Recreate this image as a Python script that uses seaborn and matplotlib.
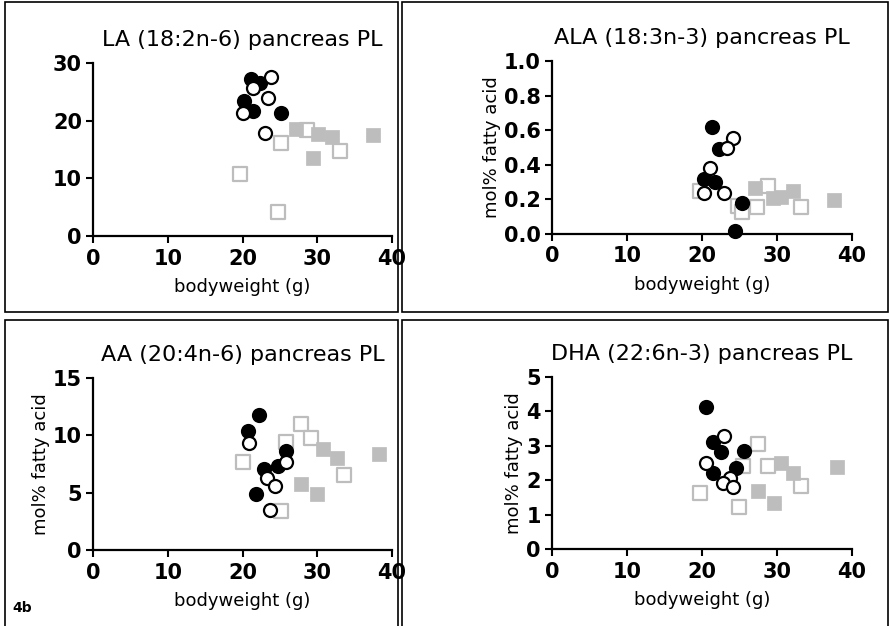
import matplotlib
matplotlib.use("Agg")
import matplotlib.pyplot as plt
from matplotlib.patches import Rectangle
import seaborn as sns
import pandas as pd

# data (bodyweight g, mol% fatty acid)
# cf = filled circle, co = open circle, sf = filled square, so = open square
la_cf_x = [21.2, 22.3, 20.2, 21.4, 25.2]
la_cf_y = [27.3, 26.5, 23.4, 21.7, 21.3]
la_co_x = [23.8, 21.4, 23.4, 20.1, 23.0]
la_co_y = [27.6, 25.6, 23.9, 21.4, 17.8]
la_sf_x = [27.2, 30.1, 32.0, 37.5, 29.4]
la_sf_y = [18.5, 17.7, 17.2, 17.5, 13.5]
la_so_x = [28.6, 25.1, 33.1, 19.7, 24.8]
la_so_y = [18.4, 16.2, 14.8, 10.7, 4.2]

ala_cf_x = [21.3, 22.3, 20.3, 21.7, 25.4, 24.4]
ala_cf_y = [0.62, 0.49, 0.32, 0.30, 0.18, 0.02]
ala_co_x = [24.1, 23.4, 21.1, 20.3, 23.0]
ala_co_y = [0.557, 0.495, 0.38, 0.235, 0.235]
ala_sf_x = [27.1, 29.5, 30.6, 32.2, 37.7]
ala_sf_y = [0.264, 0.206, 0.216, 0.25, 0.196]
ala_so_x = [19.7, 28.8, 24.8, 25.3, 27.4, 33.2]
ala_so_y = [0.25, 0.277, 0.16, 0.13, 0.158, 0.154]

aa_cf_x = [22.2, 20.7, 25.8, 24.8, 22.9, 21.8]
aa_cf_y = [11.8, 10.4, 8.66, 7.3, 7.1, 4.88]
aa_co_x = [20.9, 25.8, 23.3, 24.3, 23.7]
aa_co_y = [9.35, 7.7, 6.25, 5.58, 3.49]
aa_sf_x = [30.8, 32.6, 38.3, 27.8, 30.0]
aa_sf_y = [8.78, 8.0, 8.37, 5.72, 4.88]
aa_so_x = [27.8, 29.1, 25.8, 20.0, 33.6, 25.1]
aa_so_y = [10.96, 9.74, 9.45, 7.7, 6.54, 3.43]

dha_cf_x = [20.5, 21.5, 22.5, 25.6, 24.5, 21.5]
dha_cf_y = [4.14, 3.12, 2.83, 2.86, 2.35, 2.22]
dha_co_x = [22.9, 20.5, 23.7, 22.8, 24.1]
dha_co_y = [3.27, 2.51, 2.05, 1.93, 1.81]
dha_sf_x = [30.6, 32.2, 38.0, 27.5, 29.7]
dha_sf_y = [2.51, 2.2, 2.37, 1.69, 1.33]
dha_so_x = [27.5, 25.5, 28.8, 33.3, 19.8, 25.0]
dha_so_y = [3.05, 2.41, 2.41, 1.83, 1.64, 1.23]

titles = ["LA (18:2n-6) pancreas PL", "ALA (18:3n-3) pancreas PL",
          "AA (20:4n-6) pancreas PL", "DHA (22:6n-3) pancreas PL"]
ymax = [30, 1.0, 15, 5]
ystep = [10, 0.2, 5, 1]
yfmt = ["{:.0f}", "{:.1f}", "{:.0f}", "{:.0f}"]
xticks = [0, 10, 20, 30, 40]

sns.set_style("ticks")
plt.rcParams["font.family"] = ["DejaVu Sans"]
plt.rcParams.update({"text.color": "black", "axes.labelcolor": "black",
                     "xtick.color": "black", "ytick.color": "black",
                     "axes.edgecolor": "black"})

fig = plt.figure(figsize=(8.9, 6.26), dpi=100)

# boxes around each panel
for (x0, y0, w, h) in [(5, 2, 393, 310), (402, 2, 486, 310),
                       (5, 320, 393, 310), (402, 320, 486, 310)]:
    fig.patches.append(Rectangle((x0 / 890, 1 - (y0 + h) / 626), w / 890, h / 626,
                                 transform=fig.transFigure, fill=False,
                                 edgecolor="black", linewidth=1.2))

positions = [[0.1045, 0.623, 0.336, 0.2764],
             [0.620, 0.6262, 0.337, 0.2764],
             [0.1045, 0.1214, 0.336, 0.2748],
             [0.620, 0.123, 0.337, 0.2748]]

panels = [
    (la_cf_x, la_cf_y, la_co_x, la_co_y, la_sf_x, la_sf_y, la_so_x, la_so_y),
    (ala_cf_x, ala_cf_y, ala_co_x, ala_co_y, ala_sf_x, ala_sf_y, ala_so_x, ala_so_y),
    (aa_cf_x, aa_cf_y, aa_co_x, aa_co_y, aa_sf_x, aa_sf_y, aa_so_x, aa_so_y),
    (dha_cf_x, dha_cf_y, dha_co_x, dha_co_y, dha_sf_x, dha_sf_y, dha_so_x, dha_so_y),
]

gray = "#bdbdbd"
for i, p in enumerate(panels):
    cfx, cfy, cox, coy, sfx, sfy, sox, soy = p
    ax = fig.add_axes(positions[i])
    # draw order: open squares, filled squares, filled circles, open circles
    groups = [
        (sox, soy, "s", "white", gray, 1.6, 100),
        (sfx, sfy, "s", gray, gray, 0.5, 100),
        (cfx, cfy, "o", "black", "black", 1.2, 95),
        (cox, coy, "o", "white", "black", 1.6, 88),
    ]
    for gx, gy, mk, fc, ec, lw, sz in groups:
        df = pd.DataFrame({"bw": gx, "val": gy})
        sns.scatterplot(data=df, x="bw", y="val", marker=mk, s=sz,
                        color=fc, edgecolor=ec, linewidth=lw, ax=ax,
                        clip_on=False, zorder=3, legend=False)
    ax.set_xlim(0, 40)
    ax.set_ylim(0, ymax[i])
    ax.set_xticks(xticks)
    yt = [round(k * ystep[i], 2) for k in range(int(round(ymax[i] / ystep[i])) + 1)]
    ax.set_yticks(yt)
    ax.set_yticklabels([yfmt[i].format(v) for v in yt])
    ax.tick_params(labelsize=15, width=1.5, length=5, direction="out")
    ax.tick_params(axis="x", pad=4)
    ax.tick_params(axis="y", pad=3)
    for lab in ax.get_xticklabels() + ax.get_yticklabels():
        lab.set_fontweight("bold")
    sns.despine(ax=ax)
    for sp in ["left", "bottom"]:
        ax.spines[sp].set_linewidth(1.6)
    ax.set_xlabel("bodyweight (g)", fontsize=13, labelpad=7)
    if i == 0:
        ax.set_ylabel("")
    else:
        ax.set_ylabel("mol% fatty acid", fontsize=13, labelpad=2)
    ax.set_title(titles[i], fontsize=16, pad=12)

fig.text(12 / 890, 1 - 612 / 626, "4b", fontsize=10, fontweight="bold")

fig.savefig("out.png", dpi=100)
